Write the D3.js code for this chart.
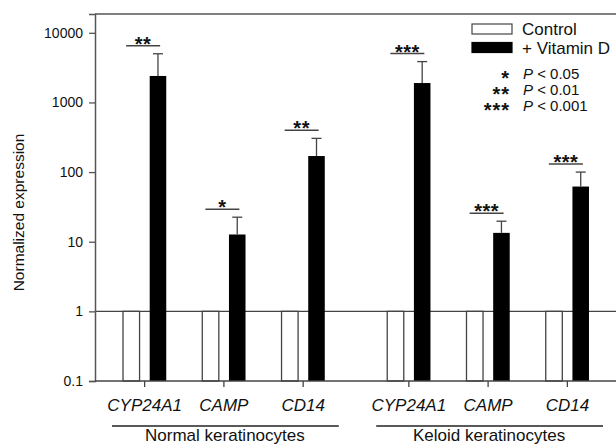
<!DOCTYPE html>
<html>
<head>
<meta charset="utf-8">
<script src="https://cdn.jsdelivr.net/npm/d3@7"></script>
<style>
    body { margin: 0; background: #fff; }
    text { font-family: "Liberation Sans", Arial, sans-serif; fill: #111; }
</style>
</head>
<body>
<div id="chart" style="width:616px;height:445px;"></div>
<script>
// data
let groups = ["Normal keratinocytes", "Keloid keratinocytes"];
let genes = ["CYP24A1", "CAMP", "CD14"];
let series = ["Control", "+ Vitamin D"];
let controlValues = [1, 1, 1, 1, 1, 1];
let vitDValues = [2400, 12.7, 170, 1900, 13.4, 62];
let vitDUpper = [5000, 22.5, 305, 3860, 19.7, 100];
let significance = ["**", "*", "**", "***", "***", "***"];
let yTicks = [0.1, 1, 10, 100, 1000, 10000];
let pLegend = [["*", "0.05"], ["**", "0.01"], ["***", "0.001"]];

class expressionVis {

    constructor(parentElement) {
        this.parentElement = parentElement;
        this.initVis();
    }

    initVis() {
        let vis = this;

        vis.margin = {top: 14, right: -14, bottom: 64, left: 95};
        vis.width = 616 - vis.margin.left - vis.margin.right;
        vis.height = 445 - vis.margin.top - vis.margin.bottom;

        vis.svg = d3.select("#" + vis.parentElement).append("svg")
            .attr("width", 616)
            .attr("height", 445)
            .append("g")
            .attr("transform", `translate(${vis.margin.left},${vis.margin.top})`);

        // scales: groups -> genes -> series
        vis.x0 = d3.scaleBand().domain(groups).range([10, 512]).paddingInner(0.1);
        vis.x1 = d3.scaleBand().domain(genes).range([0, vis.x0.bandwidth()]);
        vis.x2 = d3.scaleBand().domain(series).range([0, vis.x1.bandwidth()])
            .paddingInner(0.38).paddingOuter(0.675);

        vis.y = d3.scaleLog().domain([0.1, Math.pow(10, 4.27)]).range([vis.height, 0]);

        vis.wrangleData();
    }

    wrangleData() {
        let vis = this;
        vis.displayData = [];
        groups.forEach((g, gi) => {
            genes.forEach((gene, ji) => {
                let i = gi * genes.length + ji;
                vis.displayData.push({
                    group: g, gene: gene,
                    control: controlValues[i], vitD: vitDValues[i],
                    upper: vitDUpper[i], sig: significance[i]
                });
            });
        });
        vis.updateVis();
    }

    updateVis() {
        let vis = this;
        let lineCol = "#444";
        let cx = d => vis.x0(d.group) + vis.x1(d.gene);

        // reference line at 1
        vis.svg.append("line")
            .attr("x1", 0).attr("x2", vis.width)
            .attr("y1", vis.y(1)).attr("y2", vis.y(1))
            .attr("stroke", lineCol).attr("stroke-width", 1.3);

        // control bars
        vis.svg.selectAll(".ctrl").data(vis.displayData).enter().append("rect")
            .attr("class", "ctrl")
            .attr("x", d => cx(d) + vis.x2(series[0]))
            .attr("width", vis.x2.bandwidth())
            .attr("y", d => vis.y(d.control))
            .attr("height", d => vis.height - vis.y(d.control))
            .attr("fill", "#fff").attr("stroke", lineCol).attr("stroke-width", 1.3);

        // vitamin D bars
        vis.svg.selectAll(".vitd").data(vis.displayData).enter().append("rect")
            .attr("class", "vitd")
            .attr("x", d => cx(d) + vis.x2(series[1]))
            .attr("width", vis.x2.bandwidth())
            .attr("y", d => vis.y(d.vitD))
            .attr("height", d => vis.height - vis.y(d.vitD))
            .attr("fill", "#000");

        // error bars
        let ex = d => cx(d) + vis.x2(series[1]) + vis.x2.bandwidth() / 2;
        vis.svg.selectAll(".err").data(vis.displayData).enter().append("line")
            .attr("x1", ex).attr("x2", ex)
            .attr("y1", d => vis.y(d.vitD)).attr("y2", d => vis.y(d.upper))
            .attr("stroke", lineCol).attr("stroke-width", 1.3);
        vis.svg.selectAll(".cap").data(vis.displayData).enter().append("line")
            .attr("x1", d => ex(d) - 5).attr("x2", d => ex(d) + 5)
            .attr("y1", d => vis.y(d.upper)).attr("y2", d => vis.y(d.upper))
            .attr("stroke", lineCol).attr("stroke-width", 1.3);

        // significance lines and stars
        let sx = d => cx(d) + vis.x1.bandwidth() / 2 - 1.5;
        vis.svg.selectAll(".sig").data(vis.displayData).enter().append("line")
            .attr("x1", d => sx(d) - 17).attr("x2", d => sx(d) + 17)
            .attr("y1", d => vis.y(d.upper) - 8).attr("y2", d => vis.y(d.upper) - 8)
            .attr("stroke", lineCol).attr("stroke-width", 1.5);
        vis.svg.selectAll(".star").data(vis.displayData).enter().append("text")
            .attr("x", sx)
            .attr("y", d => vis.y(d.upper) - 8 + 5)
            .attr("text-anchor", "middle")
            .attr("font-size", 20).attr("font-weight", "bold")
            .attr("letter-spacing", 0.5)
            .text(d => d.sig);

        // frame: left axis and top line
        vis.svg.append("line").attr("x1", 0).attr("x2", vis.width).attr("y1", 0).attr("y2", 0)
            .attr("stroke", "#555").attr("stroke-width", 1.5);

        let yAxis = d3.axisLeft(vis.y).tickValues(yTicks)
            .tickFormat(d => String(d)).tickSizeOuter(0).tickSize(6).tickPadding(6);
        let yG = vis.svg.append("g").call(yAxis);
        yG.select(".domain").attr("stroke", "#555").attr("stroke-width", 1.5);
        yG.selectAll(".tick line").attr("stroke", "#555").attr("stroke-width", 1.3);
        yG.selectAll("text").attr("font-size", 14)
            .style("font-family", "'Liberation Sans', Arial, sans-serif").attr("fill", "#111");

        // bottom axis with ticks at gene centers
        let tickData = vis.displayData;
        vis.svg.append("line").attr("x1", 0).attr("x2", vis.width)
            .attr("y1", vis.height).attr("y2", vis.height)
            .attr("stroke", lineCol).attr("stroke-width", 1.3);
        let tx = d => cx(d) + vis.x1.bandwidth() / 2;
        vis.svg.selectAll(".xtick").data(tickData).enter().append("line")
            .attr("x1", tx).attr("x2", tx)
            .attr("y1", vis.height).attr("y2", vis.height + 6)
            .attr("stroke", lineCol).attr("stroke-width", 1.3);
        vis.svg.selectAll(".xlab").data(tickData).enter().append("text")
            .attr("x", tx).attr("y", vis.height + 30)
            .attr("text-anchor", "middle").attr("font-size", 17)
            .attr("font-style", "italic")
            .text(d => d.gene);

        // group underline and label
        vis.svg.selectAll(".gline").data(groups).enter().append("line")
            .attr("x1", d => vis.x0(d) + 7).attr("x2", d => vis.x0(d) + vis.x0.bandwidth() - 4)
            .attr("y1", vis.height + 45).attr("y2", vis.height + 45)
            .attr("stroke", "#222").attr("stroke-width", 1.3);
        vis.svg.selectAll(".glab").data(groups).enter().append("text")
            .attr("x", d => vis.x0(d) + vis.x0.bandwidth() / 2 + 1)
            .attr("y", vis.height + 60)
            .attr("text-anchor", "middle").attr("font-size", 17)
            .text(d => d);

        // y label
        vis.svg.append("text")
            .attr("transform", `translate(${-vis.margin.left + 24},${vis.height / 2 + 15}) rotate(-90)`)
            .attr("text-anchor", "middle").attr("font-size", 15.5)
            .text("Normalized expression");

        // legend
        let leg = vis.svg.append("g").attr("transform", `translate(${472 - vis.margin.left},${24 - vis.margin.top})`);
        series.forEach((s, i) => {
            leg.append("rect").attr("x", 0).attr("y", i * 18.5).attr("width", 40).attr("height", 10)
                .attr("fill", i === 0 ? "#fff" : "#000").attr("stroke", i === 0 ? lineCol : "#000")
                .attr("stroke-width", 1.2);
            leg.append("text").attr("x", 50).attr("y", i * 18.5 + 11).attr("font-size", 17).text(s);
        });
        pLegend.forEach((p, i) => {
            leg.append("text").attr("x", 38).attr("y", 61 + i * 16).attr("text-anchor", "end")
                .attr("font-size", 20).attr("font-weight", "bold").attr("letter-spacing", 1).text(p[0]);
            let t = leg.append("text").attr("x", 51).attr("y", 55 + i * 16).attr("font-size", 15);
            t.append("tspan").attr("font-style", "italic").text("P");
            t.append("tspan").text(" < " + p[1]);
        });
    }
}

new expressionVis("chart");
</script>
</body>
</html>
